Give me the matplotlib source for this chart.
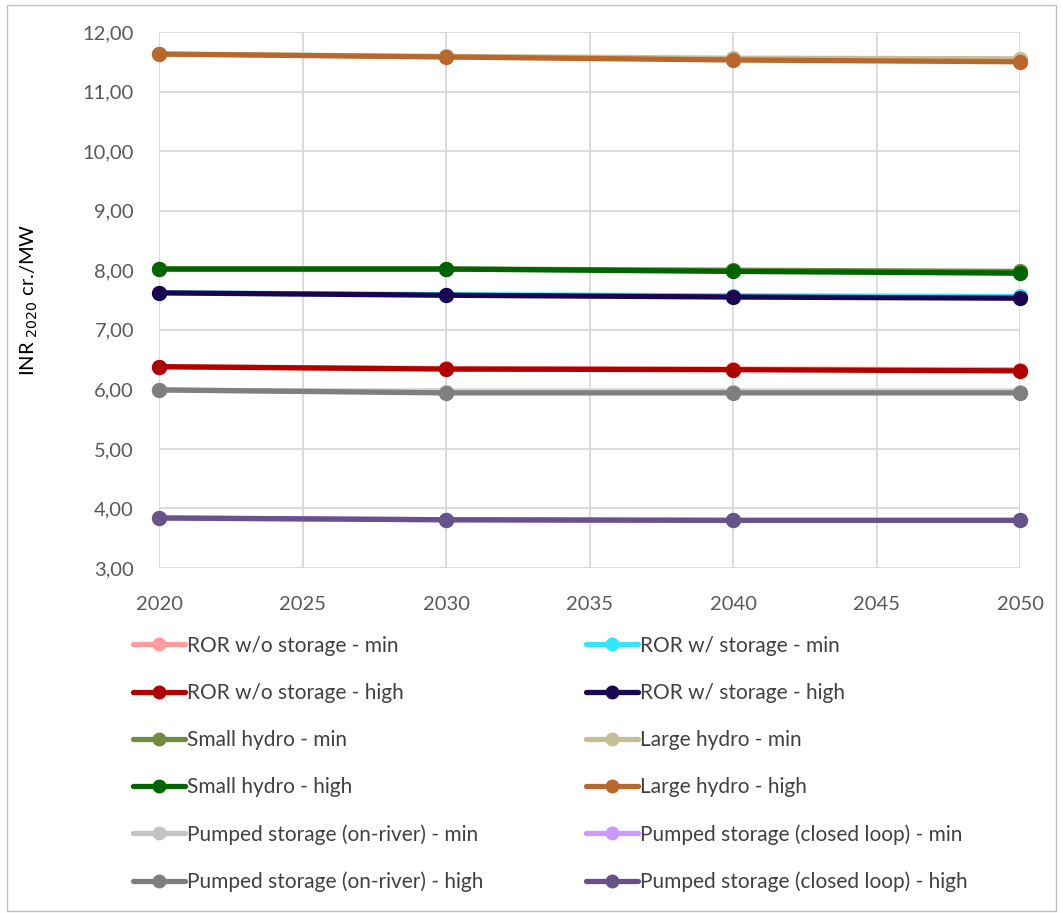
import matplotlib
matplotlib.use("Agg")
import matplotlib.pyplot as plt
from matplotlib.patches import Rectangle
from matplotlib.ticker import FuncFormatter

plt.rcParams['font.family'] = ['Lato', 'DejaVu Sans']

years = [2020, 2030, 2040, 2050]

series_names = [
    "ROR w/o storage - min", "ROR w/ storage - min",
    "ROR w/o storage - high", "ROR w/ storage - high",
    "Small hydro - min", "Large hydro - min",
    "Small hydro - high", "Large hydro - high",
    "Pumped storage (on-river) - min", "Pumped storage (closed loop) - min",
    "Pumped storage (on-river) - high", "Pumped storage (closed loop) - high",
]

ror_wo_min = [6.38, 6.35, 6.34, 6.33]
ror_w_min = [7.62, 7.59, 7.57, 7.56]
ror_wo_high = [6.38, 6.34, 6.33, 6.31]
ror_w_high = [7.62, 7.58, 7.55, 7.53]
small_min = [8.02, 8.02, 8.00, 7.98]
large_min = [11.63, 11.59, 11.56, 11.55]
small_high = [8.02, 8.02, 7.98, 7.95]
large_high = [11.63, 11.58, 11.53, 11.50]
ps_river_min = [5.99, 5.95, 5.95, 5.95]
ps_closed_min = [3.84, 3.81, 3.80, 3.80]
ps_river_high = [5.99, 5.94, 5.94, 5.94]
ps_closed_high = [3.84, 3.81, 3.80, 3.80]

series_values = [
    ror_wo_min, ror_w_min, ror_wo_high, ror_w_high,
    small_min, large_min, small_high, large_high,
    ps_river_min, ps_closed_min, ps_river_high, ps_closed_high,
]

colors = [
    "#FF9B9B", "#33E6FF", "#B00000", "#1B0550",
    "#6F8B3E", "#C6BE96", "#006400", "#B8682D",
    "#C3C3C3", "#CC99FF", "#7F7F7F", "#67528A",
]

fig = plt.figure(figsize=(10.63, 9.13), dpi=100)
ax = fig.add_axes([159 / 1063, 1 - 568 / 913, (1020 - 159) / 1063, (568 - 32) / 913])

lines = []
for name, vals, col in zip(series_names, series_values, colors):
    ln, = ax.plot(years, vals, color=col, lw=3.8, marker='o', ms=10,
                  solid_capstyle='round', label=name, clip_on=False)
    lines.append(ln)

ax.set_xlim(2020, 2050)
ax.set_ylim(3, 12)
ax.set_xticks(range(2020, 2051, 5))
ax.set_yticks(range(3, 13))
ax.yaxis.set_major_formatter(FuncFormatter(lambda v, p: f"{v:.2f}".replace('.', ',')))
ax.grid(True, color="#D9D9D9", lw=1.3)
ax.set_axisbelow(True)
for s in ax.spines.values():
    s.set_visible(False)
ax.tick_params(length=0, labelsize=14.5, labelcolor="#595959")
ax.tick_params(axis='y', pad=18)
ax.tick_params(axis='x', pad=20)
ax.set_ylabel(r"INR $_{2020}$ cr./MW", fontsize=14.5, color="black")
ax.yaxis.set_label_coords(-(159 - 40) / 861, 0.5)

# legend: left column holds w/o storage, small hydro, on-river; right column the others
order = [0, 2, 4, 6, 8, 10, 1, 3, 5, 7, 9, 11]
leg = fig.legend([lines[i] for i in order], [series_names[i] for i in order],
                 loc='upper left', bbox_to_anchor=(114 / 1063, 1 - 617 / 913),
                 ncol=2, frameon=False, fontsize=15, labelcolor="#404040",
                 handlelength=2.5, handletextpad=0.12, columnspacing=4.9,
                 labelspacing=1.3, markerscale=0.9)

fig.patches.append(Rectangle((7 / 1063, 0.002), 1 - 14 / 1063, 1 - 7 / 913,
                             transform=fig.transFigure, fill=False,
                             edgecolor="#BFBFBF", lw=1))

fig.savefig("out.png", dpi=100)
